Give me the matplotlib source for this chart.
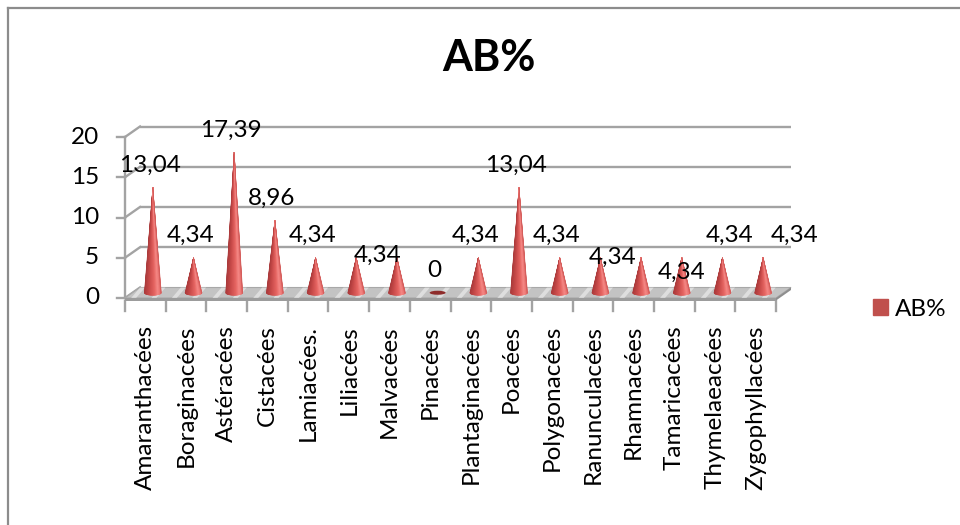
import numpy as np
import matplotlib
matplotlib.use("Agg")
import matplotlib.pyplot as plt
from matplotlib.patches import Polygon, Ellipse, Patch
from matplotlib.collections import PolyCollection
from matplotlib.colors import LinearSegmentedColormap
from matplotlib.lines import Line2D
from matplotlib.transforms import offset_copy

plt.rcParams["font.family"] = ["Lato", "DejaVu Sans"]

# ---- data ---------------------------------------------------------------
families = ["Amaranthacées", "Boraginacées", "Astéracées", "Cistacées",
            "Lamiacées.", "Liliacées", "Malvacées", "Pinacées",
            "Plantaginacées", "Poacées", "Polygonacées", "Ranunculacées",
            "Rhamnacées", "Tamaricacées", "Thymelaeacées", "Zygophyllacées"]
ab_pct = [13.04, 4.34, 17.39, 8.96, 4.34, 4.34, 4.34, 0,
          4.34, 13.04, 4.34, 4.34, 4.34, 4.34, 4.34, 4.34]
y_ticks = [0, 5, 10, 15, 20]
series_name = "AB%"

# ---- layout -------------------------------------------------------------
W, H, DPI = 960, 525, 100
fig = plt.figure(figsize=(W / DPI, H / DPI), dpi=DPI)

# front plane of the 3-D box (pixels, measured from the top-left corner)
X0, X1, Y0, Y1 = 125, 776, 298, 137
ax = fig.add_axes([X0 / W, 1 - Y0 / H, (X1 - X0) / W, (Y0 - Y1) / H])
n = len(families)
ax.set_xlim(-0.5, n - 0.5)
ax.set_ylim(y_ticks[0], y_ticks[-1])
ax.axis("off")

px_x = (X1 - X0) / n                            # pixels per category
px_y = (Y0 - Y1) / (y_ticks[-1] - y_ticks[0])   # pixels per unit
DEPTH_X, DEPTH_Y = 15, 10.5                     # box depth in pixels
ddx, ddy = DEPTH_X / px_x, DEPTH_Y / px_y
FLOOR_T = 2.5 / px_y                            # floor slab thickness

GRID = "#A3A3A3"
FS = 17.5
left, right = -0.5, n - 0.5

def pix(dx, dy):
    return offset_copy(ax.transData, fig, x=dx, y=dy, units="dots")

# back wall gridlines and their diagonals to the value axis
for v in y_ticks:
    if v > 0:
        ax.plot([left + ddx, right + ddx], [v + ddy, v + ddy], color=GRID,
                lw=1.7, solid_capstyle="butt", clip_on=False, zorder=1)
    ax.plot([left, left + ddx], [v, v + ddy], color=GRID, lw=1.7,
            clip_on=False, zorder=1)
    # tick mark and label on the value axis
    ax.plot([left - 8 / px_x, left], [v, v], color=GRID, lw=1.7,
            clip_on=False, zorder=1)
    ax.text(left, v, str(v), ha="right", va="center", fontsize=FS,
            transform=pix(-26, 0))
ax.plot([left, left], [y_ticks[0], y_ticks[-1]], color=GRID, lw=1.7,
        clip_on=False, zorder=1)

# floor slab
top = Polygon([(left, 0), (right, 0), (right + ddx, ddy), (left + ddx, ddy)],
              closed=True, fc="#C3C3C3", ec="#A8A8A8", lw=0.8,
              clip_on=False, zorder=2)
ax.add_patch(top)
for k in range(2 * n):
    xs = left + 0.15 + 0.5 * k
    w = 5 / px_x
    streak = Polygon([(xs, 0), (xs + w, 0), (xs + w + ddx * 0.6, ddy),
                      (xs + ddx * 0.6, ddy)], closed=True, fc="white",
                     ec="none", alpha=0.45, clip_on=False, zorder=2)
    ax.add_patch(streak)
front = Polygon([(left, 0), (right, 0), (right, -FLOOR_T), (left, -FLOOR_T)],
                closed=True, fc="#9C9C9C", ec="none", clip_on=False, zorder=2)
side = Polygon([(right, 0), (right + ddx, ddy), (right + ddx, ddy - FLOOR_T),
                (right, -FLOOR_T)], closed=True, fc="#8E8E8E", ec="none",
               clip_on=False, zorder=2)
ax.add_patch(front)
ax.add_patch(side)

# category axis ticks and labels
for k in range(n + 1):
    ax.plot([left + k, left + k], [-FLOOR_T, -FLOOR_T - 10 / px_y],
            color=GRID, lw=1.7, clip_on=False, zorder=1)
for i, name in enumerate(families):
    ax.text(i, 0, name, rotation=90, ha="center", va="top", fontsize=FS,
            transform=pix(0, -27))

# cones
cone_cmap = LinearSegmentedColormap.from_list(
    "cone", [(0.0, "#A8393A"), (0.3, "#C94B4A"), (0.62, "#E66562"),
             (0.82, "#F58885"), (0.94, "#EC7674"), (1.0, "#D25A58")])
hw = 8.5 / px_x
eh = 2.5 / px_y
base_y = 0.5 * ddy
N = 48
us = np.linspace(-1, 1, N + 1)
for i, v in enumerate(ab_pct):
    cx = i + 0.5 * ddx
    if v > 0:
        xs = cx + hw * us
        ys = base_y - eh * np.sqrt(np.clip(1 - us ** 2, 0, None))
        tip = (cx, base_y + v)
        polys = [[tip, (xs[k], ys[k]), (xs[k + 1], ys[k + 1])] for k in range(N)]
        cols = cone_cmap((us[:-1] + us[1:]) / 4 + 0.5)
        pc = PolyCollection(polys, facecolors=cols, edgecolors=cols,
                            linewidths=0.4, clip_on=False, zorder=3)
        ax.add_collection(pc)
    else:
        ax.add_patch(Ellipse((cx, base_y), 16 / px_x, 4 / px_y, fc="#8E2C2B",
                             ec="none", clip_on=False, zorder=3))

# value labels (offsets in pixels from the cone tip)
default_off = (-3, 22.5)
label_off = {5: (21, 2.6), 11: (12, 0.6), 13: (-0.6, -14.4),
             14: (7, 22.6), 15: (31, 22.6)}
hidden = {6, 12}
for i, v in enumerate(ab_pct):
    if i in hidden:
        continue
    dx, dy = label_off.get(i, default_off)
    txt = "0" if v == 0 else f"{v:.2f}".replace(".", ",")
    ax.text(i + 0.5 * ddx, base_y + v, txt, ha="center", va="center",
            fontsize=FS, transform=pix(dx, dy), zorder=4)

# title
fig.text(489 / W, 1 - 58 / H, series_name, ha="center", va="center",
         fontsize=31, fontweight="bold")

# legend
fig.legend(handles=[Patch(color="#C0504D")], labels=[series_name],
           loc="center left", bbox_to_anchor=(873 / W, 1 - 309 / H),
           frameon=False, fontsize=FS, handlelength=0.6, handleheight=0.6,
           handletextpad=0.3, borderpad=0, borderaxespad=0)

# chart frame (left and top edges)
fig.add_artist(Line2D([8 / W, 8 / W], [0, 1 - 8 / H], color="#8C8C8C",
                      lw=1.6, transform=fig.transFigure))
fig.add_artist(Line2D([8 / W, 1], [1 - 8 / H, 1 - 8 / H], color="#8C8C8C",
                      lw=1.6, transform=fig.transFigure))

fig.savefig("out.png", dpi=DPI)
